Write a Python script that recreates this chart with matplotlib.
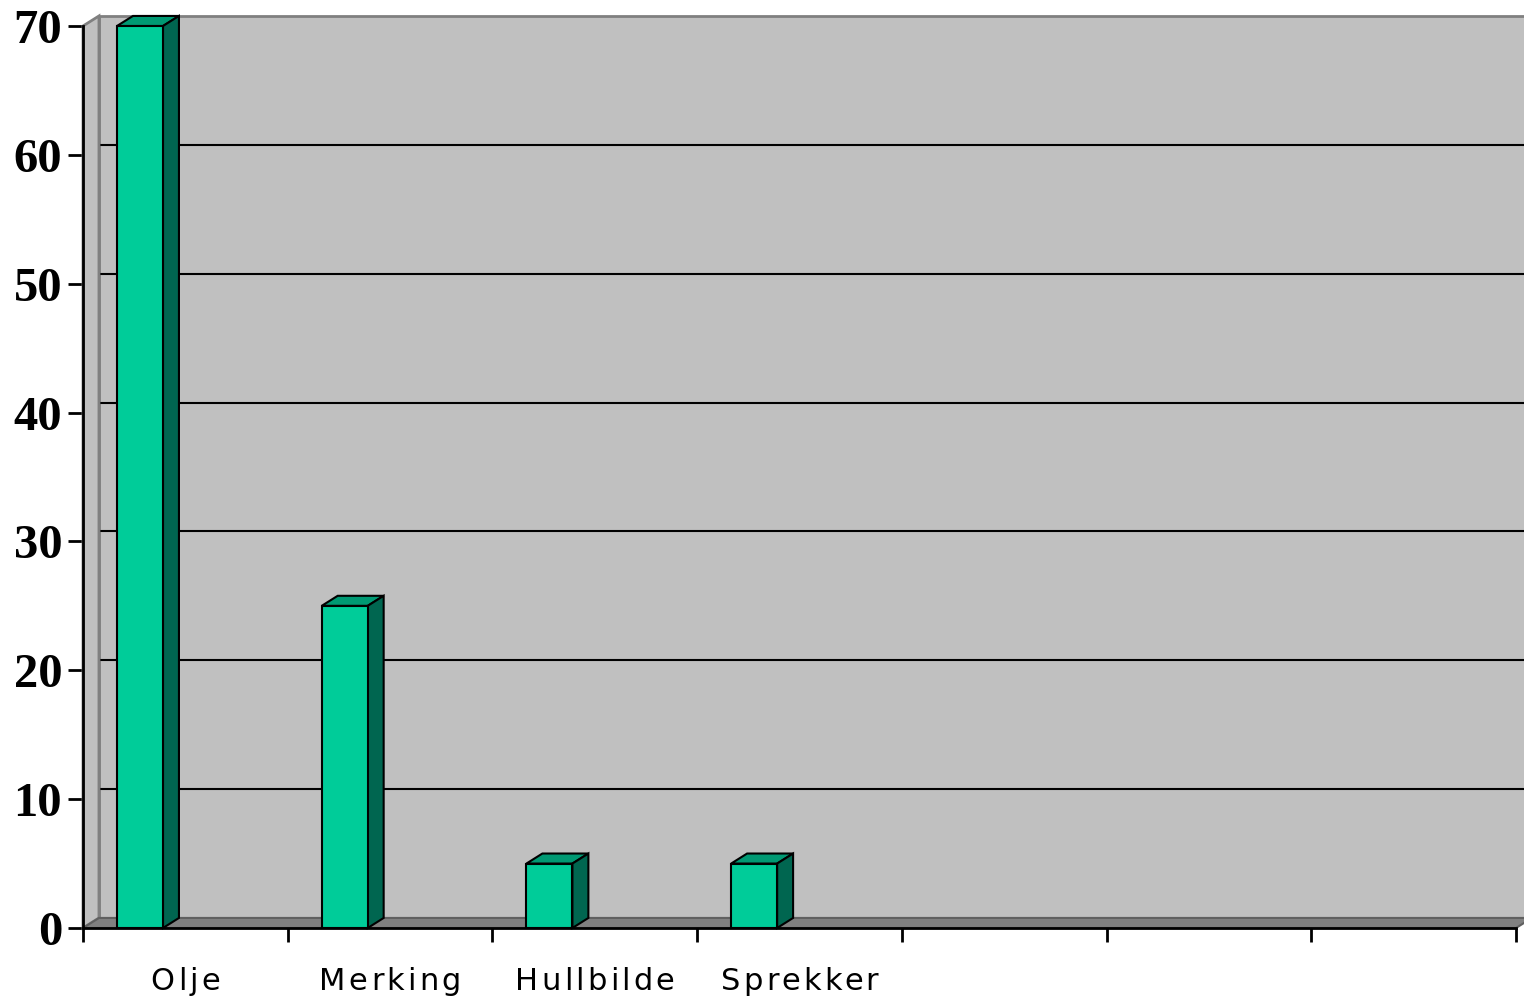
import matplotlib
matplotlib.use("Agg")
import matplotlib.pyplot as plt
from matplotlib.patches import Rectangle, Polygon
from matplotlib.transforms import offset_copy
from matplotlib.font_manager import FontProperties

# data
categories = ["Olje", "Merking", "Hullbilde", "Sprekker", "", "", ""]
values = [70, 25, 5, 5, 0, 0, 0]
y_ticks = [0, 10, 20, 30, 40, 50, 60, 70]

n_slots = len(categories)
y_max = 70

# 3D depth of the chart, in data units (x: slots, y: values)
dx = 0.078
dy = 0.78

fig = plt.figure(figsize=(15.24, 9.99), dpi=100)
ax = fig.add_axes([83 / 1524, 71 / 999, (1516 - 83) / 1524, (928 - 26) / 999])
ax.set_xlim(0, n_slots)
ax.set_ylim(0, y_max)
ax.patch.set_visible(False)

wall = "#c0c0c0"
edge = "#808080"

# back wall
ax.add_patch(Rectangle((dx, dy), n_slots + 0.2, y_max, fc=wall, ec=edge, lw=2,
                       clip_on=False, zorder=0))
# grid lines on back wall
for v in y_ticks[1:-1]:
    ax.plot([dx, n_slots + 0.2], [v + dy, v + dy], color="black", lw=1.5,
            clip_on=False, zorder=1)
# left side wall
ax.add_patch(Polygon([(0, 0), (0, y_max), (dx, y_max + dy), (dx, dy)],
                     closed=True, fc=wall, ec=edge, lw=2, clip_on=False, zorder=2))
# floor
ax.add_patch(Polygon([(0, 0), (n_slots, 0), (n_slots + dx, dy), (dx, dy)],
                     closed=True, fc=edge, ec="#606060", lw=1.5, clip_on=False, zorder=2))

# bars
bar_off = 0.166
bar_w = 0.2247
front = "#00cc99"
top = "#009973"
side = "#006650"
for i, v in enumerate(values):
    if v <= 0:
        continue
    x0 = i + bar_off
    x1 = x0 + bar_w
    ax.add_patch(Polygon([(x0, v), (x1, v), (x1 + dx, v + dy), (x0 + dx, v + dy)],
                         closed=True, fc=top, ec="black", lw=1.5, clip_on=False, zorder=5))
    ax.add_patch(Polygon([(x1, 0), (x1 + dx, dy), (x1 + dx, v + dy), (x1, v)],
                         closed=True, fc=side, ec="black", lw=1.5, clip_on=False, zorder=5))
    ax.add_patch(Rectangle((x0, 0), bar_w, v, fc=front, ec="black", lw=1.5,
                           clip_on=False, zorder=6))

# axes
for s in ["top", "right"]:
    ax.spines[s].set_visible(False)
for s in ["left", "bottom"]:
    ax.spines[s].set_linewidth(2)
    ax.spines[s].set_zorder(7)
ax.set_yticks(y_ticks)
yfont = FontProperties(family="Liberation Serif", weight="bold", size=35)
ax.set_yticklabels([str(t) for t in y_ticks], fontproperties=yfont)
ax.tick_params(axis="y", direction="out", length=11, width=2, pad=4)
ax.set_xticks(range(n_slots + 1))
ax.set_xticklabels([])
ax.tick_params(axis="x", direction="out", length=10, width=2)

# category labels with extra letter spacing
fp = FontProperties(family="DejaVu Sans", size=22)
renderer = fig.canvas.get_renderer()
track = 2.3  # points between letters


def text_w(s):
    if not s:
        return 0.0
    w, _, _ = renderer.get_text_width_height_descent(s, fp, ismath=False)
    return w * 72.0 / fig.dpi


for i, name in enumerate(categories):
    if not name:
        continue
    widths = [text_w(name[:k]) for k in range(len(name) + 1)]
    total = widths[-1] + track * (len(name) - 1)
    for k, ch in enumerate(name):
        off = -total / 2 + widths[k] + track * k
        tr = offset_copy(ax.transData, fig=fig, x=off, y=-44.6, units="points")
        ax.text(i + 0.5, 0, ch, transform=tr, fontproperties=fp,
                ha="left", va="baseline", clip_on=False)

fig.savefig("out.png", dpi=100)
